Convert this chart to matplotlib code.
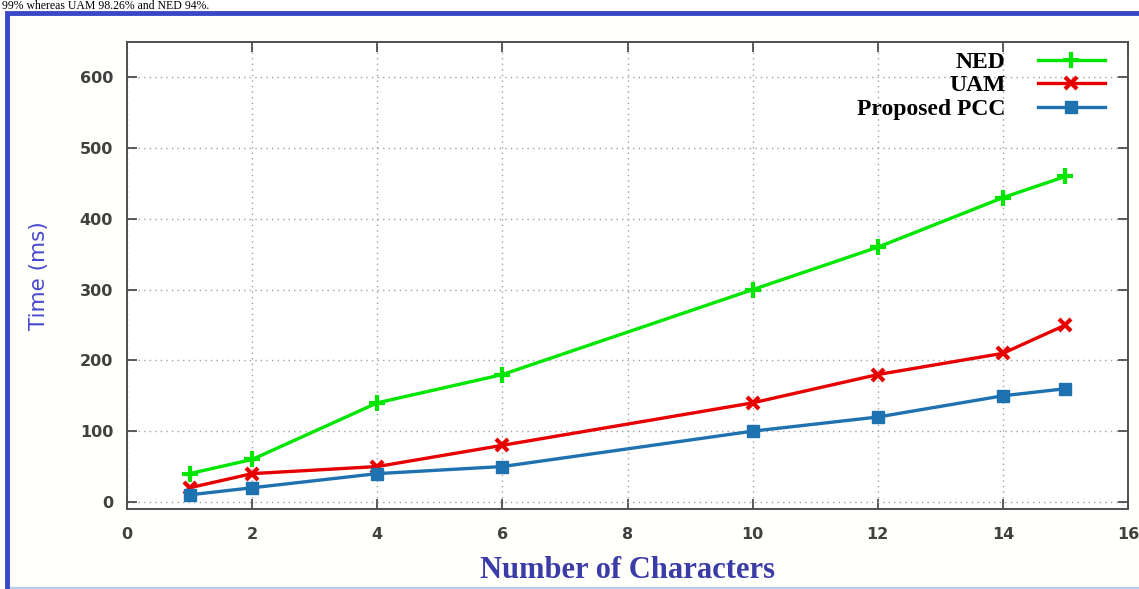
import matplotlib.pyplot as plt
from matplotlib.patches import Rectangle

# Data
chars = [1, 2, 4, 6, 10, 12, 14, 15]
ned = [40, 60, 140, 180, 300, 360, 430, 460]
uam = [20, 40, 50, 80, 140, 180, 210, 250]
pcc = [10, 20, 40, 50, 100, 120, 150, 160]

fig = plt.figure(figsize=(11.39, 5.89), dpi=100)
fig.patch.set_facecolor('white')

# blue frame around the figure (from the page layout)
fig.patches.append(Rectangle((7 / 1139, -0.01), 1.2, 1 - 13 / 589 + 0.01,
                             transform=fig.transFigure, fill=False,
                             edgecolor='#3a48c8', linewidth=3.5, zorder=0))
fig.patches.append(Rectangle((0.012, 0.0), 0.99, 1 - 15 / 589,
                             transform=fig.transFigure, facecolor='#fffffb',
                             edgecolor='none', zorder=-1))
fig.add_artist(plt.Line2D([0.01, 1], [1.5 / 589, 1.5 / 589], transform=fig.transFigure,
                          color='#b8ccf0', linewidth=1.5))

# text from the page above the figure
fig.text(0.002, 1.0, '99% whereas UAM 98.26% and NED 94%.', ha='left', va='top',
         fontsize=8.5, family='Liberation Serif', color='black')

ax = fig.add_axes([127 / 1139, 1 - 509 / 589, (1128 - 127) / 1139, (509 - 42) / 589])
ax.set_facecolor('white')

ax.plot(chars, ned, color='#00e600', linewidth=2.4, marker='+', markersize=11,
        markeredgewidth=3, label='NED')
ax.plot(chars, uam, color='#e60000', linewidth=2.4, marker='x', markersize=9,
        markeredgewidth=3, label='UAM')
ax.plot(chars, pcc, color='#1f72b0', linewidth=2.4, marker='s', markersize=8,
        label='Proposed PCC')

ax.set_xlim(0, 16)
ax.set_ylim(-10, 650)
ax.set_xticks(range(0, 17, 2))
ax.set_yticks(range(0, 601, 100))
ax.grid(True, linestyle=(0, (1, 3)), color='#a0a0a0', linewidth=1)
ax.tick_params(direction='in', length=7, width=1.2, top=True, right=True,
               labelsize=11.5, labelcolor='#404040', color='#404040')
ax.tick_params(axis='x', pad=13)
ax.tick_params(axis='y', pad=10)
for lab in ax.get_xticklabels() + ax.get_yticklabels():
    lab.set_fontweight('bold')
for sp in ax.spines.values():
    sp.set_color('#505050')
    sp.set_linewidth(1.4)

ax.set_ylabel('Time (ms)', fontsize=15.5, color='#4848d0', labelpad=22)
ax.set_xlabel('Number of Characters', fontsize=22, color='#3c3ca8', fontweight='bold',
              family='Liberation Serif', labelpad=10)

leg = ax.legend(loc='upper right', bbox_to_anchor=(0.986, 1.0), frameon=False,
                markerfirst=False, handlelength=2.8,
                prop={'family': 'Liberation Serif', 'weight': 'bold', 'size': 17},
                labelspacing=0.08, borderaxespad=0.0, handletextpad=1.4)

fig.savefig('out.png', dpi=100)
